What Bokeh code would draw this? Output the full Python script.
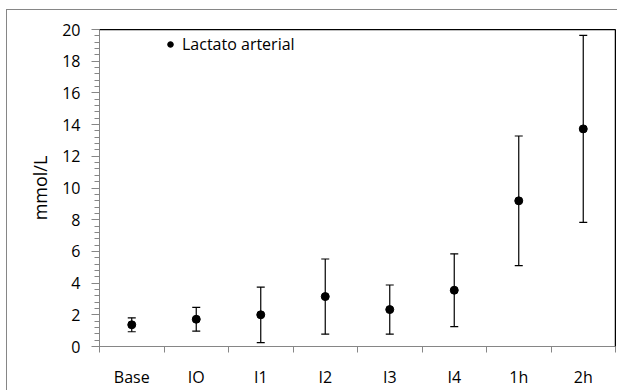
from bokeh.plotting import figure
from bokeh.models import (ColumnDataSource, Whisker, TeeHead, FixedTicker,
                          Range1d, Legend, LegendItem, Span)
from bokeh.embed import file_html
from bokeh.resources import INLINE

categories = ["Base", "IO", "I1", "I2", "I3", "I4", "1h", "2h"]
mean_values = [1.37, 1.72, 2.0, 3.15, 2.33, 3.55, 9.19, 13.73]
error_values = [0.44, 0.75, 1.75, 2.37, 1.55, 2.30, 4.09, 5.90]
y_ticks = [0, 2, 4, 6, 8, 10, 12, 14, 16, 18, 20]

FONT = "Open Sans"
GRAY = "#868686"

x_pos = [i + 0.5 for i in range(len(categories))]
src = ColumnDataSource(dict(
    x=x_pos,
    y=mean_values,
    upper=[m + e for m, e in zip(mean_values, error_values)],
    lower=[m - e for m, e in zip(mean_values, error_values)],
))

p = figure(width=617, height=390, output_backend="svg", toolbar_location=None,
           x_range=Range1d(0, len(categories)), y_range=Range1d(0, 20),
           min_border_left=99, min_border_right=2, min_border_top=29, min_border_bottom=44)
p.background_fill_color = "white"
p.border_fill_color = None
p.styles = {
    "background": ("linear-gradient(#868686, #868686) 6px 9px / 1px 100% no-repeat, "
                   "linear-gradient(#868686, #868686) 6px 9px / 100% 1px no-repeat, white"),
}
p.outline_line_color = "black"
p.outline_line_width = 1
p.xgrid.visible = False
p.ygrid.visible = False

# frame border (top and right)
p.add_layout(Span(location=20, dimension="width", line_color="black", line_width=1.5))
p.add_layout(Span(location=len(categories), dimension="height", line_color="black", line_width=1.5))

# x axis
xa = p.xaxis[0]
xa.ticker = FixedTicker(ticks=x_pos, minor_ticks=list(range(len(categories) + 1)))
xa.major_label_overrides = {x: c for x, c in zip(x_pos, categories)}
xa.major_tick_out = 0
xa.major_tick_in = 0
xa.minor_tick_out = 6
xa.minor_tick_in = 0
xa.minor_tick_line_color = GRAY
xa.axis_line_color = GRAY
xa.major_label_standoff = 13
xa.major_label_text_font = FONT
xa.major_label_text_font_size = "16px"
xa.major_label_text_color = "black"

# y axis
ya = p.yaxis[0]
ya.ticker = FixedTicker(ticks=y_ticks, minor_ticks=[i * 0.4 for i in range(51)])
ya.major_tick_out = 8
ya.major_tick_in = 0
ya.minor_tick_out = 5
ya.minor_tick_in = 0
ya.major_tick_line_color = GRAY
ya.minor_tick_line_color = GRAY
ya.axis_line_color = GRAY
ya.major_label_standoff = 11
ya.major_label_text_font = FONT
ya.major_label_text_font_size = "16px"
ya.major_label_text_color = "black"
ya.axis_label = "mmol/L"
ya.axis_label_text_font = FONT
ya.axis_label_text_font_size = "18px"
ya.axis_label_text_font_style = "normal"
ya.axis_label_text_color = "black"
ya.axis_label_standoff = 7

# error bars
wh = Whisker(source=src, base="x", upper="upper", lower="lower",
             line_color="black", line_width=1.2,
             upper_head=TeeHead(size=8, line_color="black", line_width=1.2),
             lower_head=TeeHead(size=8, line_color="black", line_width=1.2))
p.add_layout(wh)

r = p.scatter("x", "y", source=src, size=8, color="black")

legend = Legend(items=[LegendItem(label="Lactato arterial", renderers=[r])],
                location=(64, 291), padding=0, margin=0, spacing=0,
                glyph_width=14, glyph_height=14, label_height=14, label_standoff=5,
                border_line_color=None, background_fill_alpha=0,
                label_text_font=FONT, label_text_font_size="16px", label_text_color="black")
p.add_layout(legend)

open("out.html", "w").write(file_html(p, INLINE))
